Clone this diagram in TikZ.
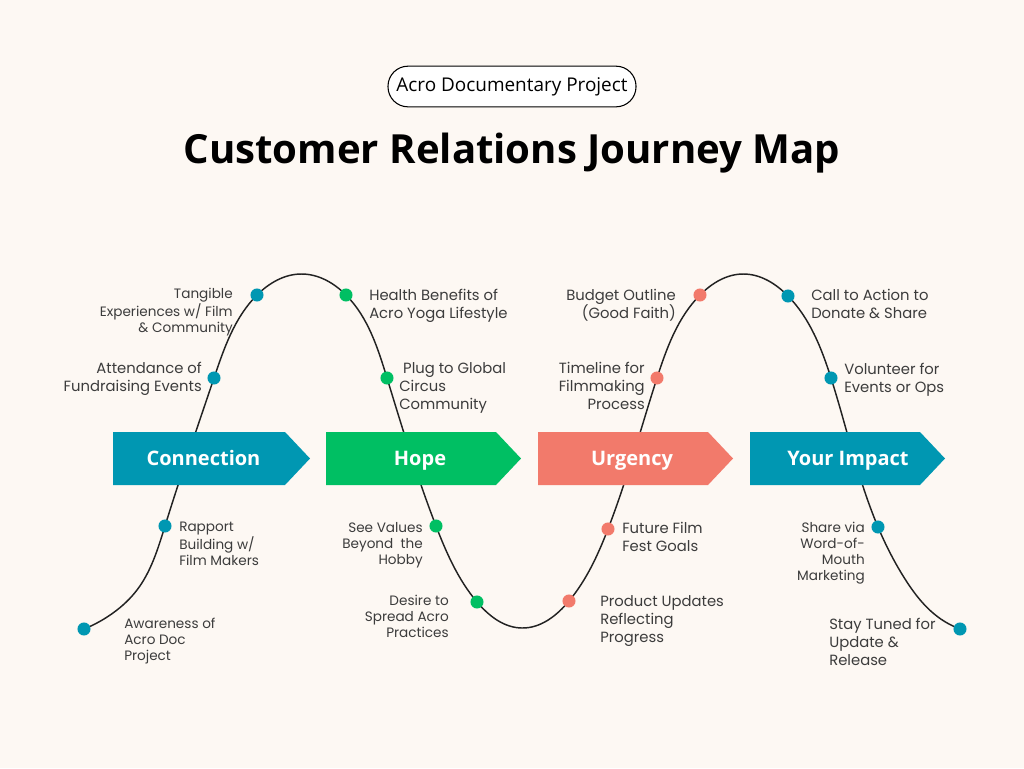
\documentclass[tikz,border=0pt]{standalone}
\usepackage{fontspec}
\usetikzlibrary{hobby}
\newfontfamily\opensans{Open Sans}
\newfontfamily\poppins{Poppins}
\definecolor{bg}{HTML}{FDF8F3}
\definecolor{teal}{HTML}{0097B2}
\definecolor{grn}{HTML}{00BF63}
\definecolor{coral}{HTML}{F27A6B}
\definecolor{txt}{HTML}{3C3C3C}
\definecolor{curve}{HTML}{222222}
\begin{document}
\begin{tikzpicture}[x=0.75pt,y=-0.75pt,
  lbl/.style={inner sep=0pt, text=txt, font=\poppins\fontsize{11.1}{13.5}\selectfont},
  lbls/.style={inner sep=0pt, text=txt, font=\poppins\fontsize{10.2}{12}\selectfont},
  dot/.style={circle, fill=#1, minimum size=9.8pt, inner sep=0pt},
  chev/.style={fill=#1, draw=none},
  chevtxt/.style={text=white, font=\opensans\bfseries\fontsize{15}{18}\selectfont, inner sep=0pt, anchor=base}
]
\useasboundingbox[fill=bg] (0,0) rectangle (1024,768);

% header
\node[draw=black, fill=white, line width=0.8pt, rounded corners=15pt,
      minimum width=186pt, minimum height=30.5pt, inner sep=0pt,
      font=\opensans\fontsize{14.2}{16}\selectfont] (sub) at (512,86.5) {Acro Documentary Project};
\node[inner sep=0pt, font=\opensans\bfseries\fontsize{30.1}{36}\selectfont] (title) at (512,153) {Customer Relations Journey Map};

% dot coordinates
\coordinate (c1) at (84,629);
\coordinate (c2) at (165,526);
\coordinate (c3) at (214,378);
\coordinate (c4) at (257,295);
\coordinate (h1) at (346,295);
\coordinate (h2) at (387,378);
\coordinate (h3) at (436,526);
\coordinate (h4) at (477,602);
\coordinate (u1) at (569,601);
\coordinate (u2) at (608,529);
\coordinate (u3) at (657,378);
\coordinate (u4) at (700,295);
\coordinate (i1) at (788,296);
\coordinate (i2) at (831,378);
\coordinate (i3) at (878,527);
\coordinate (i4) at (960,629);

% curve
\draw[curve, line width=1.1pt, use Hobby shortcut]
 (c1) .. (113,613) .. (137,590) .. (c2) .. (c3) .. (c4) .. (301,274) .. (h1) .. (h2)
 .. (h3) .. (h4) .. (522,628) .. (u1) .. (u2) .. (u3) .. (u4) .. (743,274)
 .. (i1) .. (i2) .. (i3) .. (905,579) .. (938,617) .. (i4);

% chevrons
\fill[chev=teal]  (113,432) -- (285,432) -- (310,458.5) -- (285,485) -- (113,485) -- cycle;
\fill[chev=grn]   (326,432) -- (496,432) -- (521,458.5) -- (496,485) -- (326,485) -- cycle;
\fill[chev=coral] (538,432) -- (708,432) -- (733,458.5) -- (708,485) -- (538,485) -- cycle;
\fill[chev=teal]  (750,432) -- (920,432) -- (945,458.5) -- (920,485) -- (750,485) -- cycle;
\node[chevtxt] (connection) at (203.5,465) {Connection};
\node[chevtxt] (hope) at (420,465) {Hope};
\node[chevtxt] (urgency) at (632,465) {Urgency};
\node[chevtxt] (impact) at (848,465) {Your Impact};

% dots
\foreach \p in {c1,c2,c3,c4,i1,i2,i3,i4} \node[dot=teal] at (\p) {};
\foreach \p in {h1,h2,h3,h4} \node[dot=grn] at (\p) {};
\foreach \p in {u1,u2,u3,u4} \node[dot=coral] at (\p) {};

% labels - upper
\node[lbls, anchor=north east, align=right] (t4) at (233,288) {Tangible\\Experiences w/ Film\\\& Community};
\node[lbl, anchor=north east, align=right] (t3) at (202,362) {Attendance of\\Fundraising Events};
\node[lbl, anchor=north west, align=left] (th1) at (369,289) {Health Benefits of\\Acro Yoga Lifestyle};
\node[lbl, anchor=north west, align=left] (th2) at (399,362) {\ Plug to Global\\Circus\\Community};
\node[lbl, anchor=north east, align=right] (tu4) at (676,289) {Budget Outline\\(Good Faith)};
\node[lbl, anchor=north east, align=right] (tu3) at (645,362) {Timeline for\\Filmmaking\\Process};
\node[lbl, anchor=north west, align=left] (ti1) at (811,289) {Call to Action to\\Donate \& Share};
\node[lbl, anchor=north west, align=left] (ti2) at (844,363) {Volunteer for\\Events or Ops};

% labels - lower
\node[lbls, anchor=north west, align=left] (tc2) at (179,522) {Rapport\\Building w/\\Film Makers};
\node[lbls, anchor=north west, align=left] (tc1) at (124,618) {Awareness of\\Acro Doc\\Project};
\node[lbls, anchor=north east, align=right] (th3) at (423,522) {See Values\\Beyond \ the\\Hobby};
\node[lbls, anchor=north east, align=right] (th4) at (449,595) {Desire to\\Spread Acro\\Practices};
\node[lbl, anchor=north west, align=left] (tu2) at (622,522) {Future Film\\Fest Goals};
\node[lbl, anchor=north west, align=left] (tu1) at (600,595) {Product Updates\\Reflecting\\Progress};
\node[lbls, anchor=north east, align=right] (ti3) at (865,522) {Share via\\Word-of-\\Mouth\\Marketing};
\node[lbl, anchor=north west, align=left] (ti4) at (829,618) {Stay Tuned for\\Update \&\\Release};
\end{tikzpicture}
\end{document}
